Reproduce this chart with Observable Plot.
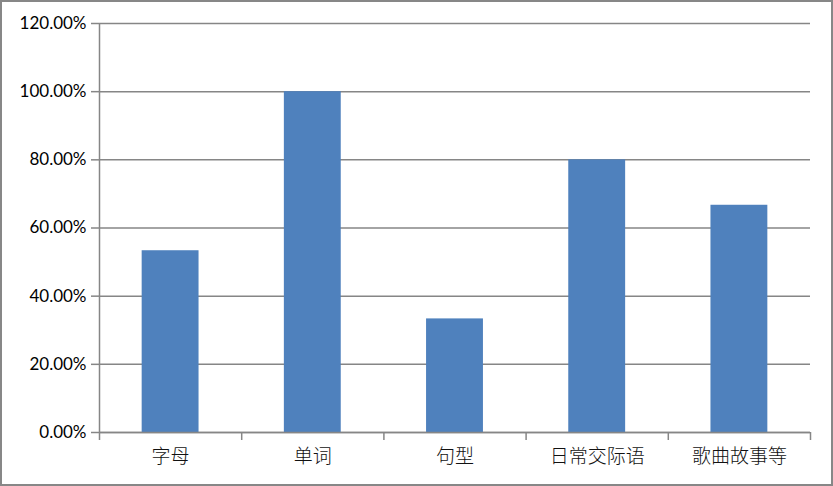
<!DOCTYPE html>
<html><head><meta charset="utf-8">
<script src="https://cdn.jsdelivr.net/npm/d3@7"></script>
<script src="https://cdn.jsdelivr.net/npm/@observablehq/plot@0.6"></script>
<style>
body{margin:0;background:#fff}
#c{width:833px;height:486px;box-sizing:border-box;border:2px solid #878787;overflow:hidden;background:#fff}
#c svg{display:block}
</style>
</head><body><div id="c"></div>
<script>
const categories = ["字母", "单词", "句型", "日常交际语", "歌曲故事等"];
const values = [0.5333, 1.0, 0.3333, 0.8, 0.6667];
const yTicks = [0, 0.2, 0.4, 0.6, 0.8, 1.0, 1.2];

const data = categories.map((c, i) => ({category: c, index: i, value: values[i]}));
const gray = "#868686";

const chart = Plot.plot({
  width: 829,
  height: 482,
  marginLeft: 97,
  marginRight: 21,
  marginTop: 21,
  marginBottom: 52,
  style: {fontFamily: "Lato, 'Noto Sans CJK SC', sans-serif", color: "#000", background: "#fff", overflow: "visible"},
  x: {type: "linear", domain: [0, categories.length], axis: null},
  y: {domain: [0, 1.2], axis: null},
  marks: [
    Plot.ruleY(yTicks, {stroke: gray, strokeWidth: 1.5}),
    Plot.rectY(data, {x1: d => d.index + 0.3, x2: d => d.index + 0.7, y1: 0, y2: "value", fill: "#4F81BD"}),
    Plot.ruleY([0], {stroke: gray, strokeWidth: 1.5}),
    Plot.ruleX([0], {stroke: gray, strokeWidth: 1.5}),
    Plot.axisY({ticks: yTicks, tickFormat: d => (d * 100).toFixed(2) + "%", tickSize: 8, tickPadding: 5, stroke: gray, strokeWidth: 1.5, fontSize: 17, fill: "#000", label: null}),
    Plot.axisX({ticks: d3.range(categories.length + 1), tickFormat: () => "", tickSize: 8, stroke: gray, strokeWidth: 1.5, label: null}),
    Plot.axisX({ticks: data.map(d => d.index + 0.5), tickFormat: t => categories[Math.floor(t)], tickSize: 0, tickPadding: 17, fontSize: 19, fontWeight: 300, fill: "#111", label: null})
  ]
});
document.getElementById("c").appendChild(chart);
</script>
</body></html>
